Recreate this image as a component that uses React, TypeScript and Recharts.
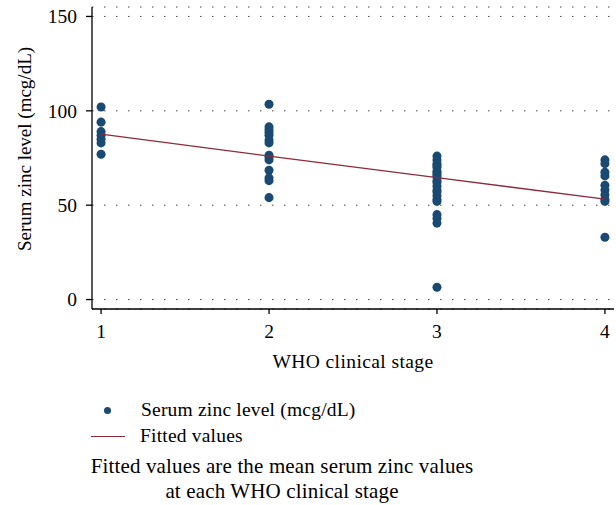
import { CartesianGrid, Scatter, ScatterChart, XAxis, YAxis } from "recharts";

const stages = [1, 2, 3, 4];
const stage1 = [102, 94, 89, 87, 85, 83, 77];
const stage2 = [103.5, 91.5, 90, 88.5, 87, 84.5, 83, 76.5, 75.5, 74, 68.5, 64.5, 63, 54];
const stage3 = [76, 74, 72, 71, 70, 68, 67, 66, 65, 63, 62, 60, 58, 57, 55, 53, 52, 45, 43, 40.5, 6.5];
const stage4 = [74, 72, 67.5, 65.5, 60.5, 58, 55.5, 53, 52, 33];
const fitted = [87.6, 76.0, 64.6, 53.2];
const yTicks = [0, 50, 100, 150];

const points = [stage1, stage2, stage3, stage4].flatMap((vals, i) =>
  vals.map((v) => ({ x: stages[i], y: v }))
);
const fitLine = stages.map((s, i) => ({ x: s, y: fitted[i] }));

const FONT = "'Liberation Serif', 'Times New Roman', serif";
const DOT = "#1a4a72";
const RED = "#8e2b38";
const tickStyle = { fill: "#000", fontSize: 19.5, fontFamily: FONT };

// rotated y-axis title
const YTitle = () => (
  <text
    x={31}
    y={149}
    transform="rotate(-90, 31, 149)"
    textAnchor="middle"
    fontSize={19}
    fontFamily={FONT}
    fill="#000"
  >
    Serum zinc level (mcg/dL)
  </text>
);

export default function App() {
  return (
    <div style={{ position: "absolute", left: 0, top: 0, width: 616, height: 505, background: "#fff", fontFamily: FONT }}>
      <ScatterChart width={616} height={380} margin={{ top: 7, right: 2, left: 0, bottom: 0 }}>
        <CartesianGrid horizontal vertical={false} stroke="#444" strokeDasharray="1.5 10.5" />
        <XAxis
          type="number"
          dataKey="x"
          domain={[0.946, 4.054]}
          ticks={stages}
          allowDataOverflow
          height={71}
          tick={tickStyle}
          tickSize={5}
          tickMargin={10}
          stroke="#000"
          strokeWidth={1.3}
          label={{
            value: "WHO clinical stage",
            position: "insideBottom",
            offset: 12,
            style: { ...tickStyle, letterSpacing: 0.4 },
          }}
        />
        <YAxis
          type="number"
          dataKey="y"
          domain={[-5, 155]}
          ticks={yTicks}
          allowDataOverflow
          width={92}
          tick={tickStyle}
          tickSize={6}
          tickMargin={9}
          stroke="#000"
          strokeWidth={1.3}
          label={<YTitle />}
        />
        <Scatter data={points} fill={DOT} shape="circle" isAnimationActive={false} />
        <Scatter
          data={fitLine}
          line={{ stroke: RED, strokeWidth: 1.3 }}
          shape={() => <g />}
          isAnimationActive={false}
        />
      </ScatterChart>
      <div style={{ position: "absolute", left: 103.5, top: 406.5, width: 7, height: 7, borderRadius: "50%", background: DOT }} />
      <div style={{ position: "absolute", left: 141, top: 398, fontSize: 19.5, letterSpacing: 0.2, lineHeight: "24px", whiteSpace: "nowrap" }}>
        Serum zinc level (mcg/dL)
      </div>
      <div style={{ position: "absolute", left: 91, top: 435.5, width: 34, height: 1.3, background: RED }} />
      <div style={{ position: "absolute", left: 140, top: 424, fontSize: 19.5, letterSpacing: 0.2, lineHeight: "24px", whiteSpace: "nowrap" }}>
        Fitted values
      </div>
      <div style={{ position: "absolute", left: 62, width: 440, top: 454, fontSize: 21, letterSpacing: 0.15, lineHeight: "25px", textAlign: "center", whiteSpace: "nowrap" }}>
        Fitted values are the mean serum zinc values
        <br />
        at each WHO clinical stage
      </div>
    </div>
  );
}
